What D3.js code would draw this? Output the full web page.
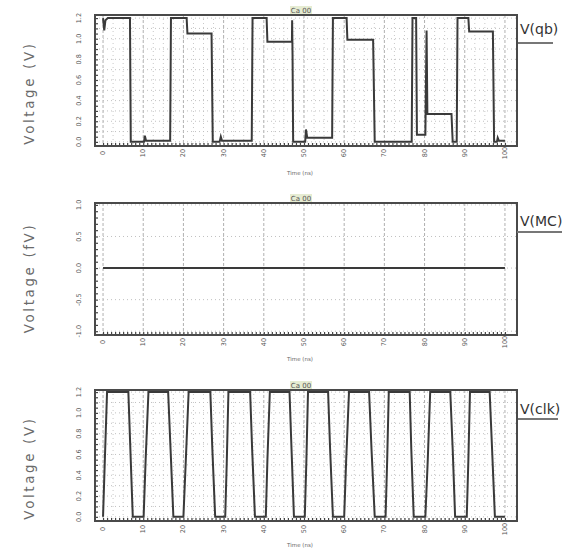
<!DOCTYPE html>
<html><head><meta charset="utf-8">
<script src="https://cdn.jsdelivr.net/npm/d3@7"></script>
<style>body{margin:0;background:#fff}</style></head><body>
<svg id="c" width="567" height="551"></svg>
<script>
// ---- data ----
const timeTicks = [0,10,20,30,40,50,60,70,80,90,100];
const qbTicks = [0,0.2,0.4,0.6,0.8,1.0,1.2];
const mcTicks = [-1,-0.5,0,0.5,1];
const clkTicks = [0,0.2,0.4,0.6,0.8,1.0,1.2];
const qbTickLabels = ["0.0","0.2","0.4","0.6","0.8","1.0","1.2"];
const mcTickLabels = ["-1.0","-0.5","0.0","0.5","1.0"];
const clkTickLabels = ["0.0","0.2","0.4","0.6","0.8","1.0","1.2"];

const qbTime = [0,0.3,0.6,1.2,6.7,6.9,10.2,10.4,10.7,16.7,16.9,20.8,21.0,27.0,27.3,29.0,29.3,29.6,37.0,37.2,40.7,40.9,47.0,47.05,47.15,47.3,50.3,50.5,50.8,57.0,57.2,60.6,60.8,67.2,67.6,76.8,77.0,77.9,78.1,80.2,80.5,80.7,86.7,87.0,88.0,88.2,90.9,91.1,97.0,97.3,98.0,98.2,98.5,100];
const qbVolt = [1.2,1.08,1.18,1.2,1.2,0.0,0.0,0.06,0.01,0.01,1.2,1.2,1.05,1.05,0.0,0.0,0.05,0.01,0.01,1.2,1.2,0.97,0.97,1.18,0.85,0.0,0.0,0.12,0.04,0.04,1.2,1.2,0.99,0.99,0.0,0.0,1.2,1.2,0.07,0.07,1.08,0.27,0.27,0.0,0.0,1.2,1.2,1.07,1.07,0.0,0.0,0.04,0.01,0.01];

const mcTime = [0,100];
const mcVolt = [0,0];

const clkTime = [0,0.45,1.0, 6.3,6.8,7.4, 10.1,10.6,11.3, 16.2,16.8,17.5, 20.0,20.6,21.3, 26.7,27.2,27.9, 30.4,30.8,31.2, 36.6,37.1,37.8, 40.5,40.9,41.5, 46.4,46.9,47.5, 50.2,50.6,51.0, 56.0,56.5,57.2, 60.0,60.5,61.2, 66.2,66.8,67.6, 70.3,70.7,71.1, 76.3,76.7,77.3, 80.2,80.8,81.4, 86.4,87.0,87.6, 90.5,90.9,91.3, 96.2,96.8,97.5, 100];
const clkVolt = [0,0.55,1.2, 1.2,0.65,0, 0,0.55,1.2, 1.2,0.65,0, 0,0.55,1.2, 1.2,0.65,0, 0,0.55,1.2, 1.2,0.65,0, 0,0.55,1.2, 1.2,0.65,0, 0,0.55,1.2, 1.2,0.65,0, 0,0.55,1.2, 1.2,0.65,0, 0,0.55,1.2, 1.2,0.65,0, 0,0.55,1.2, 1.2,0.65,0, 0,0.55,1.2, 1.2,0.65,0, 0];

const panelTitles = ["Ca 00","Ca 00","Ca 00"];
const yTitles = ["Voltage (V)","Voltage (fV)","Voltage (V)"];
const traceNames = ["V(qb)","V(MC)","V(clk)"];
const xTitle = "Time (ns)";

// ---- layout ----
const panels = [
  {top:15, bottom:146, yDomain:[-0.04,1.23], ticks:qbTicks, labels:qbTickLabels, minorStep:0.05, gridStep:0.1, xGridStep:2.5,
   t:qbTime, v:qbVolt, titleY:93, nameY:34, nameLineY:43, nameLine:[518,553], xLabY:153, xTitleY:175},
  {top:203, bottom:335, yDomain:[-1.06,1.03], ticks:mcTicks, labels:mcTickLabels, minorStep:0.1, gridStep:0.5, xGridStep:10,
   t:mcTime, v:mcVolt, titleY:278, nameY:226, nameLineY:232, nameLine:[517,562], xLabY:342, xTitleY:361},
  {top:390, bottom:521, yDomain:[-0.04,1.22], ticks:clkTicks, labels:clkTickLabels, minorStep:0.05, gridStep:0.1, xGridStep:2.5,
   t:clkTime, v:clkVolt, titleY:468, nameY:414, nameLineY:419, nameLine:[518,558], xLabY:529, xTitleY:547}
];

const svg = d3.select("#c");
const x = d3.scaleLinear().domain([-2,103]).range([95,517]);
const font = "DejaVu Sans, sans-serif";

panels.forEach((p,i)=>{
  const y = d3.scaleLinear().domain(p.yDomain).range([p.bottom,p.top]);
  const g = svg.append("g");
  // grid
  const xg = d3.range(0, 100.001, p.xGridStep);
  const yg = d3.range(p.ticks[0], p.ticks[p.ticks.length-1]+1e-6, p.gridStep);
  g.selectAll(".vg").data(xg).join("line")
    .attr("x1",d=>x(d)).attr("x2",d=>x(d)).attr("y1",p.top).attr("y2",p.bottom)
    .attr("stroke", d=> (Math.abs(d%10)<1e-6)?"#b0b0b0":"#c8c8c8")
    .attr("stroke-width",1).attr("stroke-dasharray", d=> (Math.abs(d%10)<1e-6)?"3,2":"1,3");
  g.selectAll(".hg").data(yg).join("line")
    .attr("x1",95).attr("x2",517).attr("y1",d=>y(d)).attr("y2",d=>y(d))
    .attr("stroke","#c0c0c0").attr("stroke-width",1).attr("stroke-dasharray","1,3");

  // trace
  const pts = p.t.map((t,k)=>[t,p.v[k]]);
  g.append("path").datum(pts)
    .attr("d", d3.line().x(d=>x(d[0])).y(d=>y(d[1])))
    .attr("fill","none").attr("stroke","#3a3a3a").attr("stroke-width",2);

  // minor ticks (inward)
  const minorY = d3.range(p.ticks[0], p.ticks[p.ticks.length-1]+1e-6, p.minorStep);
  g.append("g").attr("transform","translate(95,0)")
    .call(d3.axisLeft(y).tickValues(minorY).tickSize(-3).tickFormat(""))
    .call(s=>{s.select(".domain").remove(); s.selectAll("line").attr("stroke","#444").attr("stroke-width",1.2);});
  g.append("g").attr("transform",`translate(0,${p.bottom})`)
    .call(d3.axisBottom(x).tickValues(d3.range(0,100.001,1)).tickSize(-3).tickFormat(""))
    .call(s=>{s.select(".domain").remove(); s.selectAll("line").attr("stroke","#444").attr("stroke-width",1.2);});

  // frame
  g.append("rect").attr("x",95).attr("y",p.top).attr("width",422).attr("height",p.bottom-p.top)
    .attr("fill","none").attr("stroke","#4a4a4a").attr("stroke-width",2);

  // y tick labels (rotated)
  g.selectAll(".yl").data(p.ticks).join("text")
    .attr("transform",(d)=>`translate(79,${y(d)}) rotate(-90)`)
    .attr("text-anchor","middle").attr("dominant-baseline","central")
    .attr("font-family",font).attr("font-size",6.5).attr("fill","#555")
    .text((d,k)=>p.labels[k]);
  // x tick labels (rotated)
  g.selectAll(".xl").data(timeTicks).join("text")
    .attr("transform",d=>`translate(${x(d)},${p.xLabY}) rotate(-90)`)
    .attr("text-anchor","middle").attr("dominant-baseline","central")
    .attr("font-family",font).attr("font-size",6.5).attr("fill","#555")
    .text(d=>d);
  // x title
  g.append("text").attr("x",300).attr("y",p.xTitleY).attr("text-anchor","middle")
    .attr("font-family",font).attr("font-size",5.5).attr("fill","#666").text(xTitle);
  // panel title
  g.append("rect").attr("x",290).attr("y",p.top-9).attr("width",22).attr("height",8).attr("fill","#e6ecd2");
  g.append("text").attr("x",301).attr("y",p.top-2.5).attr("text-anchor","middle")
    .attr("font-family",font).attr("font-size",7).attr("fill","#555").text(panelTitles[i]);
  // y title
  g.append("text").attr("transform",`translate(29,${p.titleY}) rotate(-90)`)
    .attr("text-anchor","middle").attr("dominant-baseline","central")
    .attr("font-family",font).attr("font-size",13.5).attr("letter-spacing","2.6px").attr("fill","#6a6a6a")
    .text(yTitles[i]);
  // trace name
  g.append("text").attr("x",520).attr("y",p.nameY)
    .attr("font-family",font).attr("font-size",14).attr("fill","#333").text(traceNames[i]);
  g.append("line").attr("x1",p.nameLine[0]).attr("x2",p.nameLine[1]).attr("y1",p.nameLineY).attr("y2",p.nameLineY)
    .attr("stroke","#777").attr("stroke-width",2);
});
</script>
</body></html>
